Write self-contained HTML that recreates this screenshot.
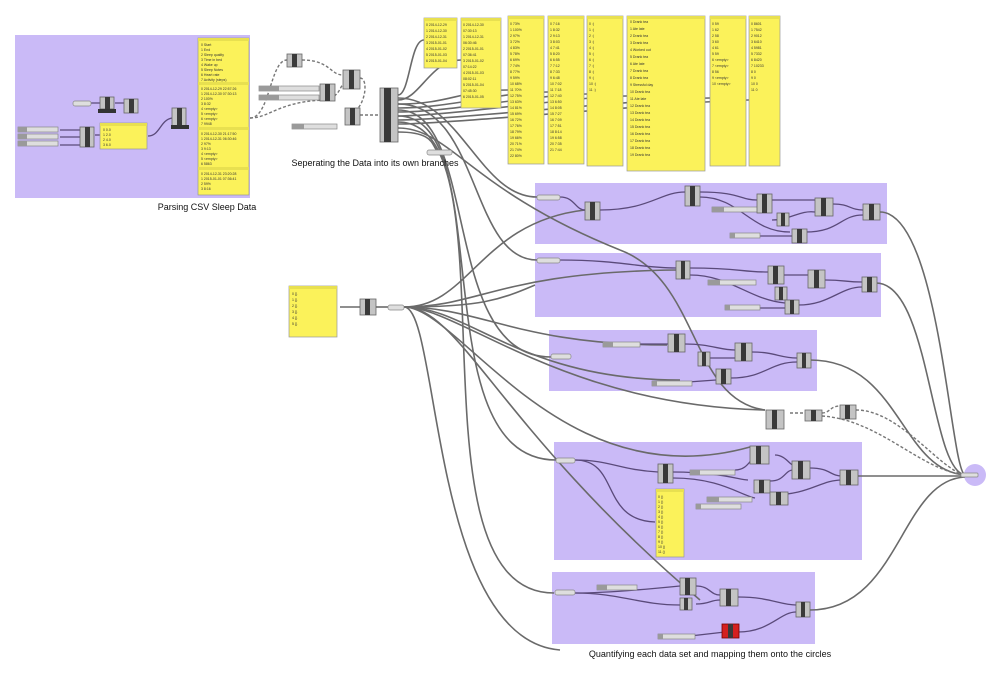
<!DOCTYPE html>
<html><head><meta charset="utf-8"><style>
html,body{margin:0;padding:0;background:#fff;}
svg{display:block;font-family:"Liberation Sans",sans-serif;}
.g{fill:#cabaf7;}
.w{fill:none;stroke:#6a6a6a;stroke-width:1.6;}
.wd{fill:none;stroke:#777;stroke-width:1.4;stroke-dasharray:3 2;}
.wp{fill:none;stroke:#5a4a7a;stroke-width:1.3;}
.c{fill:#c4c4c4;stroke:#666;stroke-width:0.8;}
.cd{fill:#3a3a3a;}
.p{fill:#fbf25a;stroke:#999;stroke-width:0.7;}
.ph{fill:#e8e050;}
.s{fill:#dedede;stroke:#888;stroke-width:0.7;}
.sl{fill:#9a9a9a;}
.t{font-size:3.5px;fill:#333;}
</style></head><body>
<svg width="1000" height="674" viewBox="0 0 1000 674">
<rect class="g" x="15" y="35" width="235" height="163"/>
<rect class="g" x="535" y="183" width="352" height="61"/>
<rect class="g" x="535" y="253" width="346" height="64"/>
<rect class="g" x="549" y="330" width="268" height="61"/>
<rect class="g" x="554" y="442" width="308" height="118"/>
<rect class="g" x="552" y="572" width="263" height="72"/>
<circle cx="975" cy="475" r="11" fill="#cabaf7"/>

<g class="w">
<path d="M398,95 C410,95 410,40 424,40"/>
<path d="M398,100 C420,100 430,60 461,60"/>
<path d="M398,104 C450,104 460,90 508,90"/>
<path d="M398,108 C450,108 500,92 548,92"/>
<path d="M398,112 C450,112 540,94 587,94"/>
<path d="M398,116 C450,116 580,96 627,96"/>
<path d="M398,120 C450,120 650,98 710,98"/>
<path d="M398,124 C450,124 700,100 749,100"/>
<path d="M398,98 C460,98 480,197 537,197"/>
<path d="M398,104 C480,104 470,260 537,260"/>
<path d="M398,110 C480,110 440,357 551,357"/>
<path d="M398,116 C500,116 420,460 556,460"/>
<path d="M398,122 C520,122 400,593 554,593"/>
<path d="M398,128 C450,128 470,190 620,250"/>
<path d="M398,132 C440,132 430,150 440,152"/>
<path d="M620,250 C700,280 690,400 765,410"/>
<path d="M340,307 C352,307 352,307 360,307"/>
<path d="M376,307 L388,307"/>
<path d="M404,307 C470,307 480,222 585,210"/>
<path d="M404,307 C480,307 500,272 676,270"/>
<path d="M404,307 C480,307 500,300 535,285"/>
<path d="M404,307 C480,307 520,345 667,345"/>
<path d="M404,307 C470,307 520,380 680,380"/>
<path d="M404,307 C460,307 560,405 765,410"/>
<path d="M404,307 C460,307 560,500 750,447"/>
<path d="M404,307 C440,307 430,640 560,650"/>
<path d="M404,307 C460,307 500,430 700,600"/>
<path d="M880,212 C940,212 950,470 965,475"/>
<path d="M876,283 C930,283 930,470 965,475"/>
<path d="M810,360 C900,360 900,470 965,475"/>
<path d="M858,476 L965,476"/>
<path d="M810,610 C900,610 900,480 965,477"/>
</g>
<g class="wd">
<path d="M250,118 C270,118 270,60 287,60"/>
<path d="M250,118 C270,118 280,100 330,100"/>
<path d="M302,60 C330,60 330,75 343,75"/>
<path d="M320,100 C340,100 340,85 343,85"/>
<path d="M360,78 C370,78 365,115 345,115"/>
<path d="M360,115 L380,115"/>
<path d="M790,413 L808,413"/>
<path d="M822,413 C830,413 830,406 840,406"/>
<path d="M856,410 C900,410 940,470 965,475"/>
<path d="M822,416 C880,420 920,470 965,475"/>
</g>

<g class="wp">
<path d="M560,197 C575,197 575,210 585,210"/>
<path d="M600,210 C650,210 660,192 685,192"/>
<path d="M700,192 C740,192 740,200 757,200"/>
<path d="M700,197 C740,197 750,232 790,232"/>
<path d="M772,200 C800,200 800,200 815,200"/>
<path d="M772,220 C790,220 800,210 815,212"/>
<path d="M833,204 C850,204 850,210 863,210"/>
<path d="M760,236 L792,236"/>
<path d="M805,232 C840,232 840,215 863,215"/>
<path d="M560,260 C620,260 640,268 676,268"/>
<path d="M690,268 C740,268 740,272 768,272"/>
<path d="M690,275 C730,275 750,300 785,303"/>
<path d="M784,275 L808,275"/>
<path d="M825,280 C845,280 845,282 862,282"/>
<path d="M760,308 L785,308"/>
<path d="M798,305 C830,305 840,287 862,287"/>
<path d="M640,344 L668,344"/>
<path d="M685,344 C710,344 720,350 735,350"/>
<path d="M710,358 L735,358"/>
<path d="M752,352 C775,352 780,358 797,358"/>
<path d="M660,384 L716,380"/>
<path d="M731,378 C765,378 770,362 797,362"/>
<path d="M575,460 C610,460 620,470 658,472"/>
<path d="M575,460 C620,460 600,520 655,522"/>
<path d="M673,472 C720,472 740,480 748,480"/>
<path d="M735,470 C750,470 750,455 760,455"/>
<path d="M775,455 C785,455 790,465 793,465"/>
<path d="M770,481 C785,481 785,470 793,470"/>
<path d="M810,468 C830,468 830,476 842,476"/>
<path d="M673,478 C720,478 740,495 755,498"/>
<path d="M771,495 C810,495 820,480 842,480"/>
<path d="M575,593 C600,593 640,590 680,586"/>
<path d="M575,593 C620,593 640,605 680,605"/>
<path d="M696,586 C710,586 710,595 720,595"/>
<path d="M696,604 C710,604 710,600 720,600"/>
<path d="M738,597 C770,597 780,605 796,605"/>
<path d="M690,636 L725,632"/>
<path d="M738,632 C770,632 780,612 796,612"/>
<path d="M60,130 L80,130 M60,137 L80,137 M60,145 L80,145"/>
<path d="M95,135 L100,135"/>
<path d="M148,136 C160,136 160,120 172,118"/>
<path d="M90,103 L100,103 M115,103 L125,103"/>
</g>

<rect class="s" x="73" y="101" width="18" height="5" rx="2"/>
<rect class="c" x="100" y="97" width="14" height="12"/><rect class="cd" x="105" y="97" width="5" height="12"/>
<rect x="98" y="109" width="18" height="4" fill="#333"/>
<rect class="c" x="124" y="99" width="14" height="14"/><rect class="cd" x="129" y="99" width="5" height="14"/>
<rect class="c" x="172" y="108" width="14" height="20"/><rect class="cd" x="177" y="108" width="5" height="20"/>
<rect x="171" y="125" width="18" height="4" fill="#333"/>
<rect class="s" x="18" y="127" width="40" height="5"/><rect class="sl" x="18" y="127" width="9" height="5"/>
<rect class="s" x="18" y="134" width="40" height="5"/><rect class="sl" x="18" y="134" width="9" height="5"/>
<rect class="s" x="18" y="141" width="40" height="5"/><rect class="sl" x="18" y="141" width="9" height="5"/>
<rect class="c" x="80" y="127" width="14" height="20"/><rect class="cd" x="85" y="127" width="5" height="20"/>
<rect class="p" x="100" y="123" width="47" height="26"/><rect class="ph" x="100" y="123" width="47" height="3"/>
<g class="t"><text x="103" y="131">0 0.0</text><text x="103" y="136">1 2.0</text><text x="103" y="141">2 4.0</text><text x="103" y="146">3 6.0</text></g>
<rect class="p" x="198" y="38" width="51" height="157"/>
<rect class="ph" x="198" y="38" width="51" height="3"/><rect class="ph" x="198" y="82" width="51" height="3"/><rect class="ph" x="198" y="127" width="51" height="3"/><rect class="ph" x="198" y="167" width="51" height="3"/>
<g class="t">
<text x="201" y="46">0 Start</text><text x="201" y="51">1 End</text><text x="201" y="56">2 Sleep quality</text><text x="201" y="61">3 Time in bed</text><text x="201" y="66">4 Wake up</text><text x="201" y="71">5 Sleep Notes</text><text x="201" y="76">6 Heart rate</text><text x="201" y="81">7 Activity (steps)</text>
<text x="201" y="90">0 2014-12-29 22:57:26</text><text x="201" y="95">1 2014-12-30 07:30:13</text><text x="201" y="100">2 100%</text><text x="201" y="105">3 8:32</text><text x="201" y="110">4 &lt;empty&gt;</text><text x="201" y="115">5 &lt;empty&gt;</text><text x="201" y="120">6 &lt;empty&gt;</text><text x="201" y="125">7 9948</text>
<text x="201" y="135">0 2014-12-30 21:17:50</text><text x="201" y="140">1 2014-12-31 06:30:46</text><text x="201" y="145">2 97%</text><text x="201" y="150">3 9:13</text><text x="201" y="155">4 &lt;empty&gt;</text><text x="201" y="160">5 &lt;empty&gt;</text><text x="201" y="165">6 5863</text>
<text x="201" y="175">0 2014-12-31 23:20:28</text><text x="201" y="180">1 2015-01-01 07:36:41</text><text x="201" y="185">2 59%</text><text x="201" y="190">3 8:16</text>
</g>
<text x="207" y="210" font-size="9" text-anchor="middle" fill="#111">Parsing CSV Sleep Data</text>

<rect class="c" x="287" y="54" width="15" height="13"/><rect class="cd" x="292" y="54" width="5" height="13"/>
<rect class="s" x="259" y="86" width="60" height="5"/><rect class="sl" x="259" y="86" width="20" height="5"/>
<rect class="s" x="259" y="95" width="60" height="5"/><rect class="sl" x="259" y="95" width="20" height="5"/>
<rect class="c" x="320" y="84" width="15" height="17"/><rect class="cd" x="325" y="84" width="5" height="17"/>
<rect class="c" x="343" y="70" width="17" height="19"/><rect class="cd" x="349" y="70" width="5" height="19"/>
<rect class="c" x="345" y="108" width="15" height="17"/><rect class="cd" x="350" y="108" width="5" height="17"/>
<rect class="s" x="292" y="124" width="45" height="5"/><rect class="sl" x="292" y="124" width="12" height="5"/>
<rect class="c" x="380" y="88" width="18" height="54"/><rect class="cd" x="384" y="88" width="7" height="54"/>
<rect class="s" x="427" y="150" width="25" height="5" rx="2"/>
<text x="375" y="166" font-size="9" text-anchor="middle" fill="#111">Seperating the Data into its own branches</text>

<g>
<rect class="p" x="424" y="18" width="33" height="50"/><rect class="ph" x="424" y="18" width="33" height="3"/>
<rect class="p" x="461" y="18" width="40" height="90"/><rect class="ph" x="461" y="18" width="40" height="3"/>
<rect class="p" x="508" y="16" width="36" height="148"/><rect class="ph" x="508" y="16" width="36" height="3"/>
<rect class="p" x="548" y="16" width="36" height="148"/><rect class="ph" x="548" y="16" width="36" height="3"/>
<rect class="p" x="587" y="16" width="36" height="150"/><rect class="ph" x="587" y="16" width="36" height="3"/>
<rect class="p" x="627" y="16" width="78" height="155"/><rect class="ph" x="627" y="16" width="78" height="3"/>
<rect class="p" x="710" y="16" width="36" height="150"/><rect class="ph" x="710" y="16" width="36" height="3"/>
<rect class="p" x="749" y="16" width="31" height="150"/><rect class="ph" x="749" y="16" width="31" height="3"/>
</g>
<g class="t">
<text x="426" y="26">0 2014-12-29</text><text x="426" y="32">1 2014-12-30</text><text x="426" y="38">2 2014-12-31</text><text x="426" y="44">3 2015-01-01</text><text x="426" y="50">4 2015-01-02</text><text x="426" y="56">5 2015-01-03</text><text x="426" y="62">6 2015-01-04</text>
<text x="463" y="26">0 2014-12-30</text><text x="463" y="32">07:30:13</text><text x="463" y="38">1 2014-12-31</text><text x="463" y="44">06:30:46</text><text x="463" y="50">2 2015-01-01</text><text x="463" y="56">07:36:41</text><text x="463" y="62">3 2015-01-02</text><text x="463" y="68">07:14:22</text><text x="463" y="74">4 2015-01-03</text><text x="463" y="80">08:02:11</text><text x="463" y="86">5 2015-01-04</text><text x="463" y="92">07:45:30</text><text x="463" y="98">6 2015-01-05</text>
<text x="510" y="25">0 73%</text><text x="510" y="31">1 100%</text><text x="510" y="37">2 97%</text><text x="510" y="43">3 72%</text><text x="510" y="49">4 83%</text><text x="510" y="55">5 78%</text><text x="510" y="61">6 69%</text><text x="510" y="67">7 74%</text><text x="510" y="73">8 77%</text><text x="510" y="79">9 59%</text><text x="510" y="85">10 68%</text><text x="510" y="91">11 70%</text><text x="510" y="97">12 75%</text><text x="510" y="103">13 63%</text><text x="510" y="109">14 81%</text><text x="510" y="115">15 69%</text><text x="510" y="121">16 72%</text><text x="510" y="127">17 76%</text><text x="510" y="133">18 79%</text><text x="510" y="139">19 66%</text><text x="510" y="145">20 71%</text><text x="510" y="151">21 74%</text><text x="510" y="157">22 80%</text>
<text x="550" y="25">0 7:16</text><text x="550" y="31">1 8:32</text><text x="550" y="37">2 9:13</text><text x="550" y="43">3 8:03</text><text x="550" y="49">4 7:41</text><text x="550" y="55">5 8:20</text><text x="550" y="61">6 6:55</text><text x="550" y="67">7 7:12</text><text x="550" y="73">8 7:33</text><text x="550" y="79">9 6:48</text><text x="550" y="85">10 7:02</text><text x="550" y="91">11 7:18</text><text x="550" y="97">12 7:40</text><text x="550" y="103">13 6:50</text><text x="550" y="109">14 8:05</text><text x="550" y="115">15 7:27</text><text x="550" y="121">16 7:09</text><text x="550" y="127">17 7:51</text><text x="550" y="133">18 8:14</text><text x="550" y="139">19 6:58</text><text x="550" y="145">20 7:35</text><text x="550" y="151">21 7:44</text>
<text x="589" y="25">0 :)</text><text x="589" y="31">1 :)</text><text x="589" y="37">2 :|</text><text x="589" y="43">3 :)</text><text x="589" y="49">4 :)</text><text x="589" y="55">5 :|</text><text x="589" y="61">6 :)</text><text x="589" y="67">7 :)</text><text x="589" y="73">8 :)</text><text x="589" y="79">9 :|</text><text x="589" y="85">10 :)</text><text x="589" y="91">11 :)</text>
<text x="630" y="23">0 Drank tea</text><text x="630" y="30">1 Ate late</text><text x="630" y="37">2 Drank tea</text><text x="630" y="44">3 Drank tea</text><text x="630" y="51">4 Worked out</text><text x="630" y="58">5 Drank tea</text><text x="630" y="65">6 Ate late</text><text x="630" y="72">7 Drank tea</text><text x="630" y="79">8 Drank tea</text><text x="630" y="86">9 Stressful day</text><text x="630" y="93">10 Drank tea</text><text x="630" y="100">11 Ate late</text><text x="630" y="107">12 Drank tea</text><text x="630" y="114">13 Drank tea</text><text x="630" y="121">14 Drank tea</text><text x="630" y="128">15 Drank tea</text><text x="630" y="135">16 Drank tea</text><text x="630" y="142">17 Drank tea</text><text x="630" y="149">18 Drank tea</text><text x="630" y="156">19 Drank tea</text>
<text x="712" y="25">0 59</text><text x="712" y="31">1 62</text><text x="712" y="37">2 58</text><text x="712" y="43">3 60</text><text x="712" y="49">4 61</text><text x="712" y="55">5 59</text><text x="712" y="61">6 &lt;empty&gt;</text><text x="712" y="67">7 &lt;empty&gt;</text><text x="712" y="73">8 56</text><text x="712" y="79">9 &lt;empty&gt;</text><text x="712" y="85">10 &lt;empty&gt;</text>
<text x="751" y="25">0 8601</text><text x="751" y="31">1 7542</text><text x="751" y="37">2 9012</text><text x="751" y="43">3 6410</text><text x="751" y="49">4 5981</text><text x="751" y="55">5 7332</text><text x="751" y="61">6 8420</text><text x="751" y="67">7 10233</text><text x="751" y="73">8 0</text><text x="751" y="79">9 0</text><text x="751" y="85">10 0</text><text x="751" y="91">11 0</text>
</g>

<rect class="p" x="289" y="286" width="48" height="51"/><rect class="ph" x="289" y="286" width="48" height="3"/>
<g class="t"><text x="292" y="295">0 {}</text><text x="292" y="301">1 {}</text><text x="292" y="307">2 {}</text><text x="292" y="313">3 {}</text><text x="292" y="319">4 {}</text><text x="292" y="325">5 {}</text></g>
<rect class="c" x="360" y="299" width="16" height="16"/><rect class="cd" x="365" y="299" width="5" height="16"/>
<rect class="s" x="388" y="305" width="16" height="5" rx="2"/>

<rect class="s" x="537" y="195" width="23" height="5" rx="2"/>
<rect class="c" x="585" y="202" width="15" height="18"/><rect class="cd" x="590" y="202" width="5" height="18"/>
<rect class="c" x="685" y="186" width="15" height="20"/><rect class="cd" x="690" y="186" width="5" height="20"/>
<rect class="s" x="712" y="207" width="48" height="5"/><rect class="sl" x="712" y="207" width="12" height="5"/>
<rect class="c" x="757" y="194" width="15" height="19"/><rect class="cd" x="762" y="194" width="5" height="19"/>
<rect class="c" x="777" y="213" width="12" height="13"/><rect class="cd" x="781" y="213" width="4" height="13"/>
<rect class="c" x="815" y="198" width="18" height="18"/><rect class="cd" x="821" y="198" width="5" height="18"/>
<rect class="c" x="792" y="229" width="15" height="14"/><rect class="cd" x="797" y="229" width="5" height="14"/>
<rect class="s" x="730" y="233" width="30" height="5"/><rect class="sl" x="730" y="233" width="5" height="5"/>
<rect class="c" x="863" y="204" width="17" height="16"/><rect class="cd" x="869" y="204" width="5" height="16"/>

<rect class="s" x="537" y="258" width="23" height="5" rx="2"/>
<rect class="c" x="676" y="261" width="14" height="18"/><rect class="cd" x="681" y="261" width="4" height="18"/>
<rect class="s" x="708" y="280" width="48" height="5"/><rect class="sl" x="708" y="280" width="12" height="5"/>
<rect class="c" x="768" y="266" width="16" height="18"/><rect class="cd" x="773" y="266" width="5" height="18"/>
<rect class="c" x="808" y="270" width="17" height="18"/><rect class="cd" x="814" y="270" width="5" height="18"/>
<rect class="c" x="775" y="287" width="12" height="13"/><rect class="cd" x="779" y="287" width="4" height="13"/>
<rect class="c" x="785" y="300" width="14" height="14"/><rect class="cd" x="790" y="300" width="4" height="14"/>
<rect class="s" x="725" y="305" width="35" height="5"/><rect class="sl" x="725" y="305" width="5" height="5"/>
<rect class="c" x="862" y="277" width="15" height="15"/><rect class="cd" x="867" y="277" width="5" height="15"/>

<rect class="s" x="551" y="354" width="20" height="5" rx="2"/>
<rect class="s" x="603" y="342" width="37" height="5"/><rect class="sl" x="603" y="342" width="10" height="5"/>
<rect class="c" x="668" y="334" width="17" height="18"/><rect class="cd" x="674" y="334" width="5" height="18"/>
<rect class="c" x="698" y="352" width="12" height="14"/><rect class="cd" x="702" y="352" width="4" height="14"/>
<rect class="c" x="735" y="343" width="17" height="18"/><rect class="cd" x="741" y="343" width="5" height="18"/>
<rect class="s" x="652" y="381" width="40" height="5"/><rect class="sl" x="652" y="381" width="5" height="5"/>
<rect class="c" x="716" y="369" width="15" height="15"/><rect class="cd" x="721" y="369" width="5" height="15"/>
<rect class="c" x="797" y="353" width="14" height="15"/><rect class="cd" x="802" y="353" width="4" height="15"/>

<rect class="c" x="766" y="410" width="18" height="19"/><rect class="cd" x="772" y="410" width="5" height="19"/>
<rect class="c" x="805" y="410" width="17" height="11"/><rect class="cd" x="811" y="410" width="5" height="11"/>
<rect class="c" x="840" y="405" width="16" height="14"/><rect class="cd" x="845" y="405" width="5" height="14"/>

<rect class="s" x="556" y="458" width="19" height="5" rx="2"/>
<rect class="c" x="658" y="464" width="15" height="19"/><rect class="cd" x="663" y="464" width="5" height="19"/>
<rect class="s" x="690" y="470" width="45" height="5"/><rect class="sl" x="690" y="470" width="10" height="5"/>
<rect class="c" x="750" y="446" width="19" height="18"/><rect class="cd" x="756" y="446" width="5" height="18"/>
<rect class="c" x="792" y="461" width="18" height="18"/><rect class="cd" x="798" y="461" width="5" height="18"/>
<rect class="c" x="754" y="480" width="16" height="13"/><rect class="cd" x="759" y="480" width="5" height="13"/>
<rect class="c" x="770" y="492" width="18" height="13"/><rect class="cd" x="776" y="492" width="5" height="13"/>
<rect class="s" x="707" y="497" width="45" height="5"/><rect class="sl" x="707" y="497" width="12" height="5"/>
<rect class="s" x="696" y="504" width="45" height="5"/><rect class="sl" x="696" y="504" width="5" height="5"/>
<rect class="c" x="840" y="470" width="18" height="15"/><rect class="cd" x="846" y="470" width="5" height="15"/>
<rect class="p" x="656" y="489" width="28" height="68"/><rect class="ph" x="656" y="489" width="28" height="3"/>
<g class="t"><text x="658" y="498">0 ()</text><text x="658" y="503">1 ()</text><text x="658" y="508">2 ()</text><text x="658" y="513">3 ()</text><text x="658" y="518">4 ()</text><text x="658" y="523">5 ()</text><text x="658" y="528">6 ()</text><text x="658" y="533">7 ()</text><text x="658" y="538">8 ()</text><text x="658" y="543">9 ()</text><text x="658" y="548">10 ()</text><text x="658" y="553">11 ()</text></g>
<rect class="s" x="961" y="473" width="17" height="4" rx="1"/>

<rect class="s" x="555" y="590" width="20" height="5" rx="2"/>
<rect class="s" x="597" y="585" width="40" height="5"/><rect class="sl" x="597" y="585" width="10" height="5"/>
<rect class="c" x="680" y="578" width="16" height="17"/><rect class="cd" x="685" y="578" width="5" height="17"/>
<rect class="c" x="680" y="598" width="12" height="12"/><rect class="cd" x="684" y="598" width="4" height="12"/>
<rect class="c" x="720" y="589" width="18" height="17"/><rect class="cd" x="726" y="589" width="5" height="17"/>
<rect class="s" x="658" y="634" width="37" height="5"/><rect class="sl" x="658" y="634" width="5" height="5"/>
<rect x="722" y="624" width="17" height="14" fill="#d42020" stroke="#700" stroke-width="0.8"/><rect class="cd" x="728" y="624" width="5" height="14"/>
<rect class="c" x="796" y="602" width="14" height="15"/><rect class="cd" x="801" y="602" width="4" height="15"/>

<text x="710" y="657" font-size="9" text-anchor="middle" fill="#111">Quantifying each data set and mapping them onto the circles</text>
</svg>
</body></html>
